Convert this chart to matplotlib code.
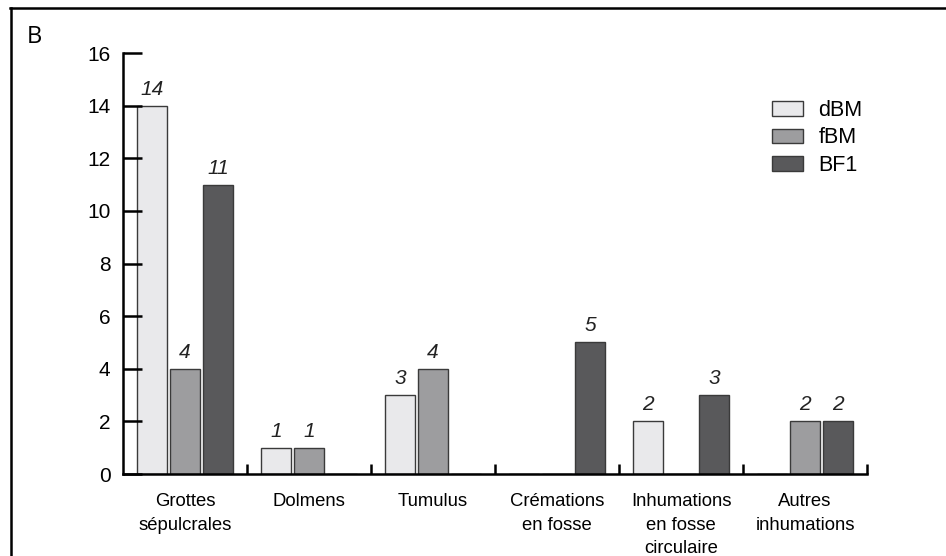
import numpy as np
import matplotlib
matplotlib.use("Agg")
import matplotlib.pyplot as plt
from matplotlib.lines import Line2D

plt.rcParams['font.family'] = ['Liberation Sans', 'DejaVu Sans']

categories = ['Grottes\nsépulcrales', 'Dolmens', 'Tumulus', 'Crémations\nen fosse',
              'Inhumations\nen fosse\ncirculaire', 'Autres\ninhumations']
series = ['dBM', 'fBM', 'BF1']
dBM = [14, 1, 3, 0, 2, 0]
fBM = [4, 1, 4, 0, 0, 2]
BF1 = [11, 0, 0, 5, 3, 2]
colors = ['#e9e9eb', '#9d9d9f', '#59595b']

W, H = 946, 556
fig = plt.figure(figsize=(W / 100, H / 100), dpi=100)
ax = fig.add_axes([123 / W, (H - 474) / H, 744 / W, 421 / H])

x = np.arange(len(categories)) + 0.5
offs = [-0.266, 0, 0.266]
for vals, off, c, name in zip([dBM, fBM, BF1], offs, colors, series):
    bars = ax.bar(x + off, vals, width=0.242, color=c, edgecolor='#3a3a3a',
                  linewidth=1.0, label=name)
    for xi, v in zip(x + off, vals):
        if v > 0:
            ax.annotate(str(v), (xi, v), xytext=(0, 5), textcoords='offset points',
                        ha='center', va='bottom', fontsize=15, style='italic',
                        color='#222222')

ax.set_xlim(0, 6)
ax.set_ylim(0, 16)
ax.set_yticks(np.arange(0, 17, 2))
ax.set_xticks(np.arange(1, 7))
ax.set_xticklabels([])
ax.set_xticks(x, minor=True)
ax.set_xticklabels(categories, minor=True, fontsize=13.3, linespacing=1.52)
ax.tick_params(axis='x', which='major', direction='in', length=7, width=1.8)
ax.tick_params(axis='x', which='minor', length=0, pad=13.5)
ax.tick_params(axis='y', direction='in', length=13.5, width=1.8, pad=9, labelsize=15)
for s in ['top', 'right']:
    ax.spines[s].set_visible(False)
for s in ['left', 'bottom']:
    ax.spines[s].set_linewidth(1.8)

leg = ax.legend(loc='upper left', bbox_to_anchor=(772 / W, 1 - 100 / H),
                bbox_transform=fig.transFigure, frameon=False, fontsize=15.5,
                handlelength=1.45, handleheight=0.65, handletextpad=0.7,
                labelspacing=0.3, borderpad=0, borderaxespad=0)

fig.text(27 / W, 1 - 43 / H, 'B', fontsize=17, family=['Open Sans', 'DejaVu Sans'],
         va='baseline', ha='left')

fig.add_artist(Line2D([10 / W, 1], [1 - 8 / H, 1 - 8 / H], color='black', linewidth=1.8,
                      transform=fig.transFigure))
fig.add_artist(Line2D([11 / W, 11 / W], [0, 1 - 8 / H], color='black', linewidth=1.8,
                      transform=fig.transFigure))

plt.savefig("out.png", dpi=100)
